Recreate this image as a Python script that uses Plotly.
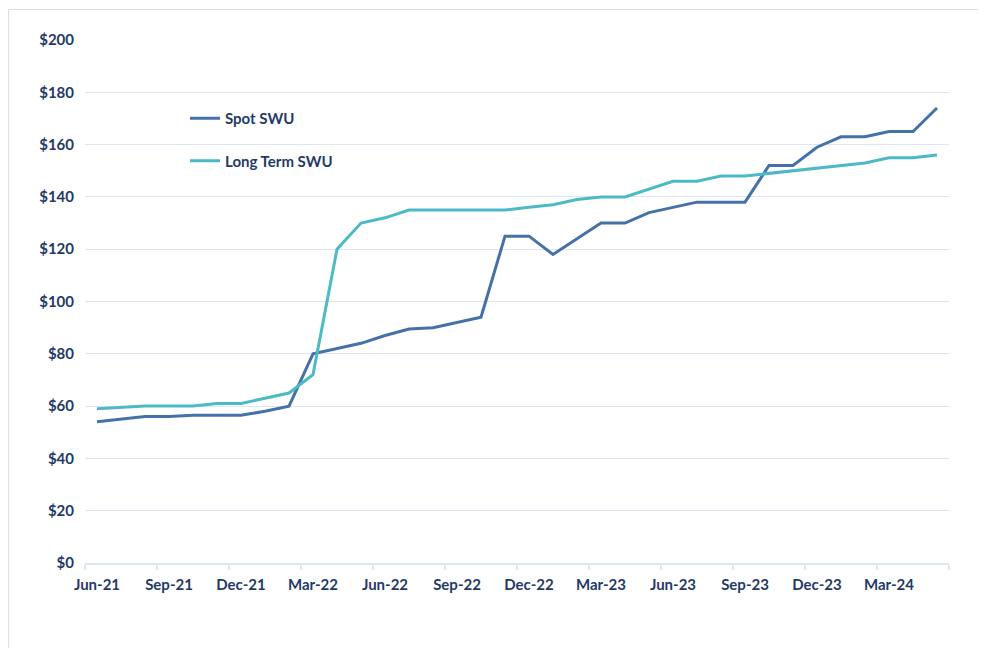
import plotly.graph_objects as go

months = ["Jun-21","Jul-21","Aug-21","Sep-21","Oct-21","Nov-21","Dec-21","Jan-22","Feb-22",
          "Mar-22","Apr-22","May-22","Jun-22","Jul-22","Aug-22","Sep-22","Oct-22","Nov-22",
          "Dec-22","Jan-23","Feb-23","Mar-23","Apr-23","May-23","Jun-23","Jul-23","Aug-23",
          "Sep-23","Oct-23","Nov-23","Dec-23","Jan-24","Feb-24","Mar-24","Apr-24","May-24"]

spot_swu = [54, 55, 56, 56, 56.5, 56.5, 56.5, 58, 60,
            80, 82, 84, 87, 89.5, 90, 92, 94, 125,
            125, 118, 124, 130, 130, 134, 136, 138, 138,
            138, 152, 152, 159, 163, 163, 165, 165, 174]

long_term_swu = [59, 59.5, 60, 60, 60, 61, 61, 63, 65,
                 72, 120, 130, 132, 135, 135, 135, 135, 135,
                 136, 137, 139, 140, 140, 143, 146, 146, 148,
                 148, 149, 150, 151, 152, 153, 155, 155, 156]

y_ticks = [0, 20, 40, 60, 80, 100, 120, 140, 160, 180, 200]
y_tick_labels = ["$" + str(v) for v in y_ticks]

label_every = 3
x_idx = list(range(len(months)))
x_tickvals = x_idx[::label_every]
x_ticktext = months[::label_every]

TEXT = "#1F3A68"
GRID = "#DCE6F2"
FONT = "Lato, 'Open Sans', sans-serif"
FS = 15

fig = go.Figure()
fig.add_trace(go.Scatter(x=x_idx, y=spot_swu, mode="lines", name="Spot SWU",
                         line=dict(color="#4671A8", width=3), legendgroup="a"))
fig.add_trace(go.Scatter(x=x_idx, y=long_term_swu, mode="lines", name="Long Term SWU",
                         line=dict(color="#4BBAC6", width=3), legendgroup="b"))

# page has an 8px body margin; figure coords = page coords - 8
OFF = 8
W, H = 986 - OFF, 648 - OFF
L, R, T, B = 85 - OFF, 986 - 949, 40 - OFF, 648 - 563
pw, ph = W - L - R, H - T - B

def px(x):
    return (x - OFF - L) / pw

def py(y):
    return (H - B - (y - OFF)) / ph

fig.update_layout(
    width=W, height=H,
    margin=dict(l=L, r=R, t=T, b=B),
    paper_bgcolor="white", plot_bgcolor="white",
    font=dict(family=FONT, color=TEXT, size=FS, weight="bold"),
    showlegend=True,
    legend=dict(x=px(185), y=py(102), xanchor="left", yanchor="top",
                bgcolor="rgba(0,0,0,0)", tracegroupgap=20,
                font=dict(family=FONT, size=FS, color=TEXT, weight="bold")),
    xaxis=dict(range=[-0.5, len(months) - 0.5], tickvals=x_tickvals, ticktext=x_ticktext,
               showgrid=False, zeroline=False, showline=True, linecolor=GRID, linewidth=1.5,
               ticks="", ticklabelstandoff=7,
               minor=dict(tick0=-0.5, dtick=label_every, ticks="outside", ticklen=5,
                          tickcolor=GRID, tickwidth=1.5, showgrid=False),
               tickfont=dict(family=FONT, size=FS, color=TEXT, weight="bold")),
    yaxis=dict(range=[0, 200], tickvals=y_ticks, ticktext=y_tick_labels,
               showgrid=True, gridcolor=GRID, gridwidth=1, zeroline=False,
               showline=False, ticks="", ticklabelstandoff=10,
               tickfont=dict(family=FONT, size=FS, color=TEXT, weight="bold")),
    shapes=[
        dict(type="line", xref="paper", yref="paper", x0=px(8.5), x1=px(8.5), y0=py(9), y1=py(660),
             line=dict(color="#D6E0EC", width=1.2)),
        dict(type="line", xref="paper", yref="paper", x0=px(8.5), x1=px(1000), y0=py(9.5), y1=py(9.5),
             line=dict(color="#D6E0EC", width=1.2)),
    ],
)

fig.write_html("out.html")
